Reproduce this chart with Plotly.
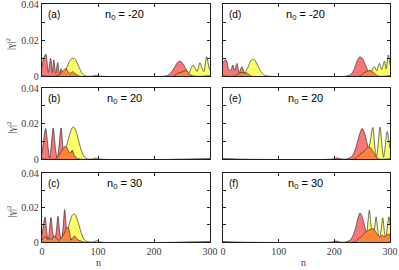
import plotly.graph_objects as go

# ---------------- data (n, |gamma|^2) ----------------
# panel (a) n0 = -20, left column
a_red_n = [0, 3, 7, 11, 15.5, 18.5, 21, 24.5, 28, 31, 34, 38, 42, 48, 220, 228, 236, 242, 246, 250, 256, 262, 268, 300]
a_red_v = [0.005, 0.010, 0.0122, 0.002, 0.0098, 0.002, 0.0089, 0.0015, 0.0074, 0.0015, 0.004, 0.001, 0.0012, 0,
           0, 0.001, 0.0045, 0.0075, 0.0082, 0.0075, 0.0045, 0.0012, 0, 0]
a_yel_n = [0, 30, 36, 42, 48, 53, 56, 60, 66, 72, 78, 92, 97, 102, 256, 262, 266, 270, 274, 277, 282, 286, 289, 294, 298, 300]
a_yel_v = [0, 0, 0.0008, 0.003, 0.0075, 0.0096, 0.0098, 0.009, 0.005, 0.0012, 0, 0, 0.0004, 0,
           0, 0.0015, 0.004, 0.0061, 0.004, 0.0025, 0.0074, 0.004, 0.0025, 0.0107, 0.005, 0.003]
a_ora_n = [0, 26, 32, 38, 43, 47, 51, 55, 58, 62, 66, 236, 242, 248, 252, 256, 260, 264, 268, 300]
a_ora_v = [0, 0, 0.001, 0.003, 0.0042, 0.002, 0.0015, 0.0025, 0.0015, 0.0008, 0,
           0, 0.0015, 0.002, 0.0025, 0.003, 0.0025, 0.001, 0, 0]

# panel (d) n0 = -20, right column
d_red_n = [0, 3, 6, 10, 14, 17.5, 21, 25, 29, 34, 38, 42, 46, 222, 230, 236, 241, 246, 251, 256, 262, 268, 300]
d_red_v = [0.007, 0.0088, 0.0089, 0.004, 0.003, 0.0061, 0.003, 0.0070, 0.002, 0.0052, 0.002, 0.001, 0,
           0, 0.001, 0.004, 0.0085, 0.0107, 0.0095, 0.006, 0.002, 0, 0]
d_yel_n = [0, 34, 40, 45, 50, 53, 57, 62, 68, 74, 80, 262, 266, 269, 272, 276, 281, 285, 290, 293, 297, 300]
d_yel_v = [0, 0, 0.002, 0.005, 0.0085, 0.0093, 0.0088, 0.006, 0.0025, 0.0005, 0,
           0, 0.002, 0.004, 0.0052, 0.003, 0.007, 0.0035, 0.0083, 0.004, 0.0117, 0.006]
d_ora_n = [0, 22, 28, 34, 38, 42, 46, 50, 246, 252, 258, 262, 266, 270, 274, 278, 300]
d_ora_v = [0, 0, 0.0015, 0.002, 0.0015, 0.0018, 0.001, 0,
           0, 0.0015, 0.0025, 0.003, 0.0028, 0.002, 0.001, 0, 0]

# panel (b) n0 = 20, left column
b_red_n = [0, 2, 6.5, 11, 13.5, 16, 20, 24, 27, 30, 34, 38, 41, 44, 47, 50, 53, 56, 60, 64, 300]
b_red_v = [0.003, 0.008, 0.0172, 0.006, 0.0005, 0.006, 0.0175, 0.006, 0.0005, 0.006, 0.0175, 0.005, 0.001,
           0.002, 0.003, 0.001, 0.0045, 0.002, 0.0005, 0, 0]
b_yel_n = [0, 32, 38, 44, 50, 54, 56, 58, 62, 66, 70, 74, 78, 82, 90, 96, 102, 300]
b_yel_v = [0, 0, 0.002, 0.0075, 0.0145, 0.0175, 0.018, 0.0175, 0.0145, 0.0095, 0.005, 0.002, 0.0005, 0,
           0, 0.0006, 0, 0]
b_ora_n = [0, 24, 30, 35, 39, 42, 45, 48, 51, 54, 57, 60, 64, 300]
b_ora_v = [0, 0, 0.002, 0.0045, 0.0065, 0.0072, 0.006, 0.004, 0.0035, 0.005, 0.0025, 0.001, 0, 0]

# panel (e) n0 = 20, right column
e_red_n = [0, 198, 205, 212, 222, 230, 236, 241, 246, 250, 254, 258, 262, 266, 272, 300]
e_red_v = [0, 0, 0.0006, 0, 0, 0.001, 0.004, 0.009, 0.0145, 0.0172, 0.015, 0.01, 0.005, 0.0015, 0, 0]
e_yel_n = [0, 256, 260, 264, 269, 273, 275.5, 278, 282, 286, 288.5, 291, 295, 298, 300]
e_yel_v = [0, 0, 0.002, 0.009, 0.0178, 0.006, 0.001, 0.006, 0.018, 0.006, 0.001, 0.006, 0.0155, 0.01, 0.006]
e_ora_n = [0, 236, 242, 248, 254, 258, 262, 266, 270, 274, 280, 300]
e_ora_v = [0, 0, 0.0015, 0.003, 0.0045, 0.006, 0.0068, 0.006, 0.004, 0.0015, 0, 0]

# panel (c) n0 = 30, left column
c_red_n = [0, 2.5, 5.5, 8.5, 11, 13, 16, 19, 22.5, 25.5, 28.5, 31.5, 34.5, 37.5, 40.5, 43.5, 46, 49, 52, 56, 60, 300]
c_red_v = [0.004, 0.01, 0.0145, 0.006, 0.001, 0.006, 0.0142, 0.006, 0.001, 0.006, 0.015, 0.006, 0.001, 0.008,
           0.0188, 0.008, 0.002, 0.001, 0.002, 0.0005, 0, 0]
c_yel_n = [0, 36, 42, 46, 50, 54, 57, 60, 64, 68, 72, 76, 80, 84, 92, 98, 104, 300]
c_yel_v = [0, 0, 0.003, 0.007, 0.012, 0.0155, 0.0163, 0.0155, 0.012, 0.0075, 0.0035, 0.0012, 0.0003, 0,
           0, 0.0008, 0, 0]
c_ora_n = [0, 3, 7, 10, 14, 18, 22, 26, 30, 34, 38, 41, 45, 48, 52, 55, 58, 62, 66, 70, 74, 300]
c_ora_v = [0.001, 0.0025, 0.003, 0.0015, 0.002, 0.0015, 0.0035, 0.002, 0.001, 0.002, 0.004, 0.006, 0.0085,
           0.0075, 0.001, 0.0025, 0.0035, 0.002, 0.001, 0.0005, 0, 0]

# panel (f) n0 = 30, right column
f_red_n = [0, 196, 203, 210, 220, 228, 234, 239, 243, 246, 249, 253, 257, 261, 265, 270, 300]
f_red_v = [0, 0, 0.0006, 0, 0, 0.001, 0.004, 0.009, 0.0145, 0.0168, 0.0155, 0.011, 0.006, 0.0025, 0.0008, 0, 0]
f_yel_n = [0, 254, 258, 260.5, 263, 266, 269, 272, 275, 278, 281, 284, 287, 290, 292.5, 295, 298, 300]
f_yel_v = [0, 0, 0.004, 0.012, 0.0185, 0.009, 0.002, 0.007, 0.0146, 0.007, 0.002, 0.007, 0.014, 0.006,
           0.002, 0.008, 0.0146, 0.01]
f_ora_n = [0, 236, 242, 248, 254, 258, 262, 266, 270, 274, 278, 282, 286, 290, 294, 297, 300]
f_ora_v = [0, 0, 0.0015, 0.003, 0.005, 0.006, 0.007, 0.0075, 0.0078, 0.006, 0.004, 0.003, 0.004, 0.003,
           0.004, 0.0045, 0.004]

panel_letters = ["(a)", "(b)", "(c)", "(d)", "(e)", "(f)"]
n0_values = ["-20", "20", "30", "-20", "20", "30"]
x_ticks = [0, 100, 200, 300]
y_ticks = [0, 0.01, 0.02, 0.03, 0.04]
y_ticktext = ["0", "", "0.02", "", "0.04"]

panels = [
    (a_red_n, a_red_v, a_yel_n, a_yel_v, a_ora_n, a_ora_v),
    (b_red_n, b_red_v, b_yel_n, b_yel_v, b_ora_n, b_ora_v),
    (c_red_n, c_red_v, c_yel_n, c_yel_v, c_ora_n, c_ora_v),
    (d_red_n, d_red_v, d_yel_n, d_yel_v, d_ora_n, d_ora_v),
    (e_red_n, e_red_v, e_yel_n, e_yel_v, e_ora_n, e_ora_v),
    (f_red_n, f_red_v, f_yel_n, f_yel_v, f_ora_n, f_ora_v),
]

# ---------------- styling / layout ----------------
W, H = 399, 270
RED = "rgb(250,118,118)"
ORA = "rgb(255,132,52)"
YEL = "rgb(255,255,102)"
EDGE = "rgb(50,50,50)"
col_px = [(42, 210), (223, 390)]
row_px = [(4, 76), (88, 159), (173, 242)]

fig = go.Figure()
layout = dict(width=W, height=H, margin=dict(l=0, r=0, t=0, b=0, autoexpand=False),
              paper_bgcolor="white", plot_bgcolor="white", showlegend=False)
annotations = []

for i, (rn, rv, yn, yv, on, ov) in enumerate(panels):
    col, row = i // 3, i % 3
    k = i + 1
    xs = "x" if k == 1 else f"x{k}"
    ys = "y" if k == 1 else f"y{k}"
    for nn, vv, c in ((yn, yv, YEL), (rn, rv, RED), (on, ov, ORA)):
        fig.add_trace(go.Scatter(x=nn, y=vv, xaxis=xs, yaxis=ys, mode="lines",
                                 line=dict(color=EDGE, width=0.7, shape="spline", smoothing=0.8),
                                 fill="tozeroy", fillcolor=c, hoverinfo="skip"))
    x0, x1 = col_px[col]
    y0, y1 = row_px[row]
    xd = [x0 / W, x1 / W]
    yd = [(H - y1) / H, (H - y0) / H]
    axcommon = dict(showline=True, mirror="ticks", linecolor="rgb(30,30,30)", linewidth=1.3,
                    ticks="inside", ticklen=3, tickwidth=1, tickcolor="rgb(30,30,30)",
                    showgrid=False, zeroline=False, automargin=False, ticklabeloverflow="allow",
                    tickfont=dict(family="Liberation Serif", size=10, color="rgb(60,60,60)"))
    layout["xaxis" if k == 1 else f"xaxis{k}"] = dict(
        axcommon, domain=xd, range=[0, 300], tickvals=x_ticks, anchor=ys,
        showticklabels=(row == 2))
    layout["yaxis" if k == 1 else f"yaxis{k}"] = dict(
        axcommon, domain=yd, range=[0, 0.04], tickvals=y_ticks, ticktext=y_ticktext,
        anchor=xs, showticklabels=(col == 0))
    # panel letter
    annotations.append(dict(text=panel_letters[i], xref="paper", yref="paper",
                            x=(x0 + 4) / W, y=(H - y0 - 3) / H, xanchor="left", yanchor="top",
                            showarrow=False, font=dict(family="Liberation Sans", size=10, color="black")))
    # n0 label
    annotations.append(dict(text=f"n<sub>0</sub> = {n0_values[i]}", xref="paper", yref="paper",
                            x=(x0 + 82) / W, y=(H - y0 - 2) / H, xanchor="center", yanchor="top",
                            showarrow=False, font=dict(family="Liberation Sans", size=11, color="black")))
    if col == 0:
        annotations.append(dict(text="|γ|<sup>2</sup>", xref="paper", yref="paper",
                                x=10 / W, y=(H - (y0 + y1) / 2 - 4) / H, xanchor="center", yanchor="middle",
                                textangle=-90, showarrow=False,
                                font=dict(family="Liberation Serif", size=10, color="rgb(60,60,60)")))
    if row == 2:
        annotations.append(dict(text="n", xref="paper", yref="paper",
                                x=(98 if col == 0 else 303) / W, y=(H - 262) / H,
                                xanchor="center", yanchor="middle", showarrow=False,
                                font=dict(family="Liberation Serif", size=10, color="rgb(60,60,60)")))

layout["annotations"] = annotations
fig.update_layout(**layout)
fig.write_html("out.html", config={"responsive": False, "displayModeBar": False},
               post_script="document.body.style.margin='0';document.body.style.overflow='hidden';")
